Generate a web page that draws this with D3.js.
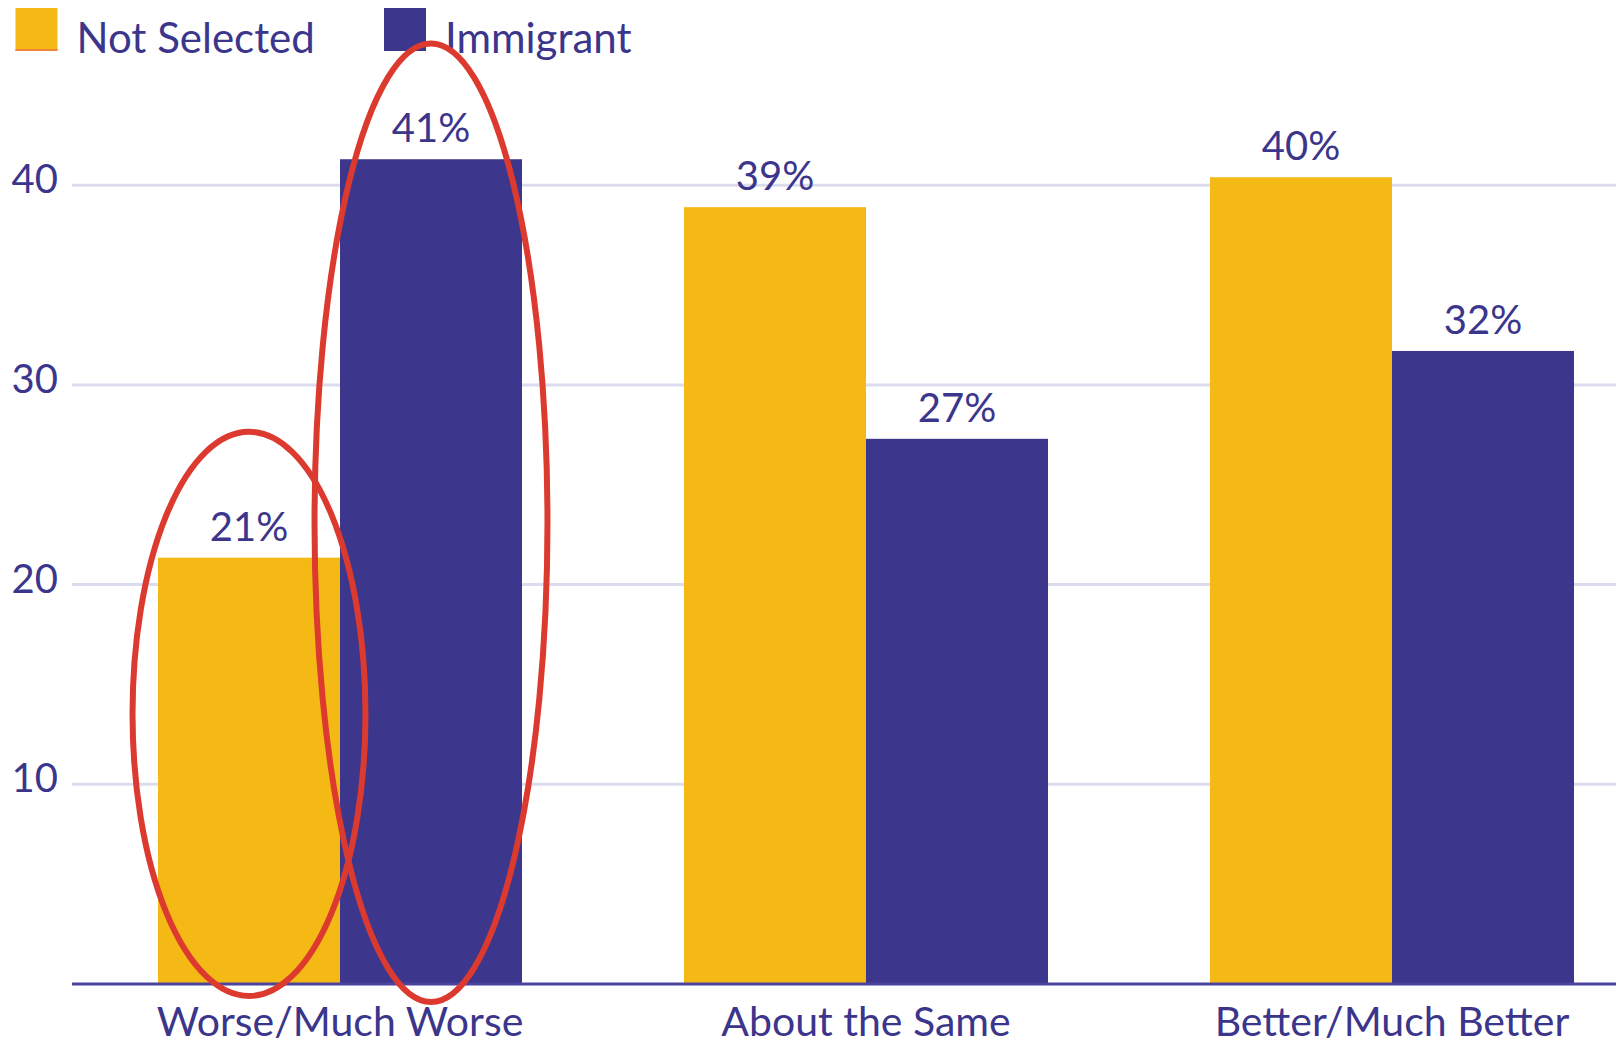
<!DOCTYPE html>
<html>
<head>
<meta charset="utf-8">
<script src="https://cdn.jsdelivr.net/npm/d3@7"></script>
<style>
  html, body { margin: 0; padding: 0; background: #ffffff; }
  svg { display: block; }
  text { font-family: Lato, "Open Sans", "Noto Sans", sans-serif; fill: #3b368c; }
</style>
</head>
<body>
<script>
// Survey responses by group, percent of respondents
const categories = ["Worse/Much Worse", "About the Same", "Better/Much Better"];
const seriesNames = ["Not Selected", "Immigrant"];
const notSelected = [21.35, 38.9, 40.4];
const immigrant = [41.3, 27.3, 31.7];
const yTicks = [10, 20, 30, 40];

// Highlighted bars (circled in red): category index, series index
const highlights = [
  { cat: 0, ser: 0, above: 6.3, below: 0.6 },
  { cat: 0, ser: 1, above: 5.8, below: 0.9 }
];

const W = 1616, H = 1047;
const colors = { "Not Selected": "#f5b916", "Immigrant": "#3c378c" };

const svg = d3.select("body").append("svg")
  .attr("width", W).attr("height", H);

const y = d3.scaleLinear().domain([0, 40]).range([984, 185.2]);

const x0 = d3.scaleBand().domain(categories)
  .range([158, 1574]).paddingInner(0.308).paddingOuter(0);
const x1 = d3.scaleBand().domain(seriesNames)
  .range([0, x0.bandwidth()]).padding(0);

const rows = categories.map((c, i) => ({
  category: c,
  values: [
    { series: "Not Selected", value: notSelected[i] },
    { series: "Immigrant", value: immigrant[i] }
  ]
}));

// Gridlines
svg.append("g").selectAll("line").data(yTicks).join("line")
  .attr("x1", 72).attr("x2", W)
  .attr("y1", d => y(d)).attr("y2", d => y(d))
  .attr("stroke", "#dcdcef").attr("stroke-width", 3);

// Y tick labels
svg.append("g").selectAll("text").data(yTicks).join("text")
  .attr("x", 58).attr("y", d => y(d) + 8)
  .attr("text-anchor", "end")
  .attr("font-size", 40)
  .text(d => d);

// Bars
const groups = svg.append("g").selectAll("g").data(rows).join("g")
  .attr("transform", d => `translate(${x0(d.category)},0)`);

groups.selectAll("rect").data(d => d.values).join("rect")
  .attr("x", d => x1(d.series))
  .attr("width", x1.bandwidth())
  .attr("y", d => y(d.value))
  .attr("height", d => y(0) - y(d.value))
  .attr("fill", d => colors[d.series]);

// Value labels
groups.selectAll("text").data(d => d.values).join("text")
  .attr("x", d => x1(d.series) + x1.bandwidth() / 2)
  .attr("y", d => y(d.value) - 17)
  .attr("text-anchor", "middle")
  .attr("font-size", 40)
  .text(d => d3.format(".0f")(d.value) + "%");

// Baseline
svg.append("line")
  .attr("x1", 72).attr("x2", W)
  .attr("y1", y(0)).attr("y2", y(0))
  .attr("stroke", "#4a449e").attr("stroke-width", 3);

// Category labels
svg.append("g").selectAll("text").data(categories).join("text")
  .attr("x", d => x0(d) + x0.bandwidth() / 2)
  .attr("y", 1036)
  .attr("text-anchor", "middle")
  .attr("font-size", 41)
  .text(d => d);

// Legend
const legendX = [15.5, 384];
const legend = svg.append("g").selectAll("g").data(seriesNames).join("g")
  .attr("transform", (d, i) => `translate(${legendX[i]},8)`);
legend.append("rect")
  .attr("width", 42).attr("height", 43)
  .attr("fill", d => colors[d]);
legend.filter(d => d === "Not Selected").append("rect")
  .attr("y", 41).attr("width", 42).attr("height", 2)
  .attr("fill", "#f0843a");
legend.append("text")
  .attr("x", 61)
  .attr("y", 45)
  .attr("font-size", 42)
  .text(d => d);

// Red highlight ellipses around the first group's bars
const bw = x1.bandwidth();
svg.append("g").selectAll("ellipse").data(highlights).join("ellipse")
  .attr("cx", d => x0(categories[d.cat]) + x1(seriesNames[d.ser]) + bw / 2)
  .attr("cy", d => {
    const v = (d.ser === 0 ? notSelected : immigrant)[d.cat];
    return (y(v + d.above) + y(-d.below)) / 2;
  })
  .attr("rx", bw * 0.64)
  .attr("ry", d => {
    const v = (d.ser === 0 ? notSelected : immigrant)[d.cat];
    return (y(-d.below) - y(v + d.above)) / 2;
  })
  .attr("fill", "none")
  .attr("stroke", "#dc3a2f")
  .attr("stroke-width", 6);
</script>
</body>
</html>
